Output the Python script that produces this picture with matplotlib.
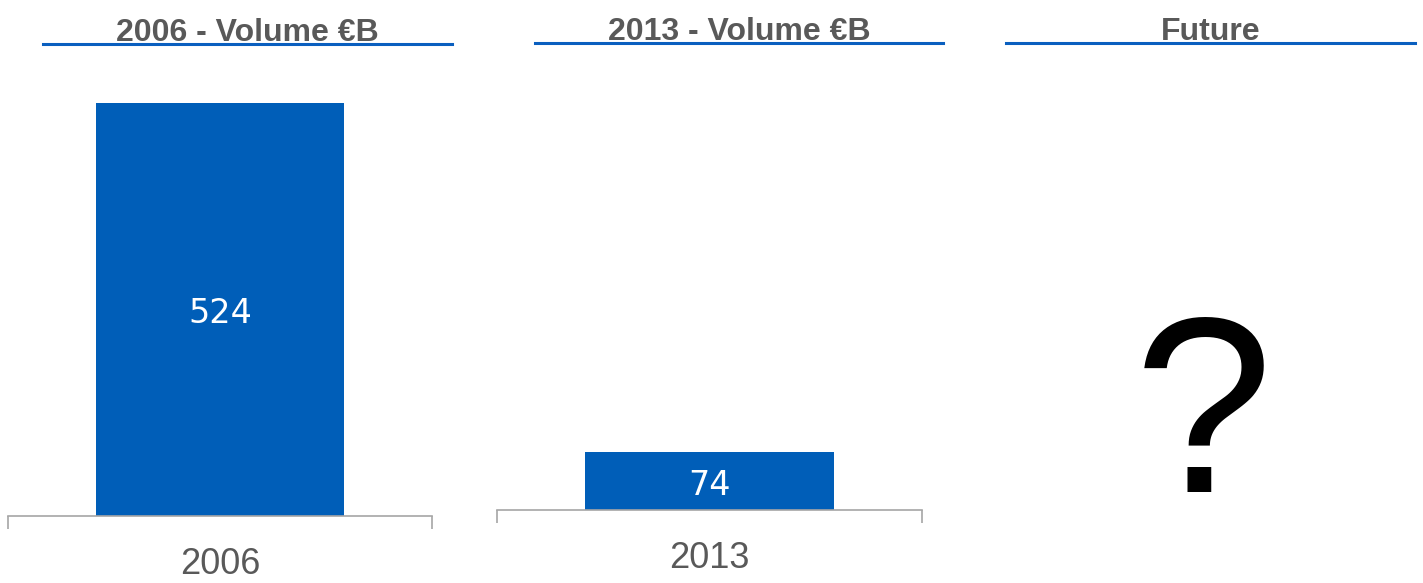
import matplotlib
matplotlib.use('Agg')
import matplotlib.pyplot as plt
from matplotlib.lines import Line2D
from matplotlib.transforms import offset_copy

# Data
years = ["2006", "2013"]
volumes = [524, 74]
headers = ["2006 - Volume €B", "2013 - Volume €B", "Future"]

BLUE = '#005EB8'
LINE_BLUE = '#0A5FBF'
GRAY_TXT = '#595959'
AXIS_GRAY = '#A6A6A6'

W, H = 1423, 583
fig = plt.figure(figsize=(W / 100, H / 100), dpi=100)

px_per_unit = 413 / 524.0

# (left, right, baseline y from top) in pixels for each bar panel
panels = [(8, 432, 516), (497, 922, 510)]
top_px = 60

for (left, right, base), year, vol in zip(panels, years, volumes):
    ax = fig.add_axes([left / W, (H - base) / H, (right - left) / W, (base - top_px) / H])
    ax.bar([0], [vol], width=0.587, color=BLUE)
    ax.set_xlim(-0.5, 0.5)
    ax.set_ylim(0, (base - top_px) / px_per_unit)
    for s in ['top', 'right', 'left']:
        ax.spines[s].set_visible(False)
    ax.spines['bottom'].set_color(AXIS_GRAY)
    ax.spines['bottom'].set_linewidth(1.2)
    ax.set_yticks([])
    ax.set_xticks([0])
    ax.set_xticklabels([year], fontsize=26, color=GRAY_TXT, family='Liberation Sans')
    ax.tick_params(axis='x', which='major', length=0, pad=22)
    ax.set_xticks([-0.5, 0.5], minor=True)
    ax.tick_params(axis='x', which='minor', length=9, width=1.2, color=AXIS_GRAY,
                   direction='out')
    trans = offset_copy(ax.transData, fig=fig, x=0, y=-3, units='points')
    ax.text(0, vol / 2, str(vol), ha='center', va='center', color='white',
            fontsize=24, family='DejaVu Sans', transform=trans)

# Headers with blue underline
header_pos = [(43, 452, 44), (535, 943, 43), (1006, 1415, 43)]
for (x0, x1, y), title in zip(header_pos, headers):
    fig.text((x0 + x1) / 2 / W, (H - y + 3) / H, title, ha='center', va='baseline',
             fontsize=23, fontweight='bold', color=GRAY_TXT, family='Liberation Sans')
    fig.add_artist(Line2D([x0 / W, x1 / W], [(H - y) / H, (H - y) / H],
                          transform=fig.transFigure, color=LINE_BLUE, linewidth=2.2))

# Future panel: question mark
fig.text(1203 / W, (H - 427) / H, "?", ha='center', va='center', fontsize=180,
         color='black', family='Liberation Sans')

fig.savefig('out.png', dpi=100)
